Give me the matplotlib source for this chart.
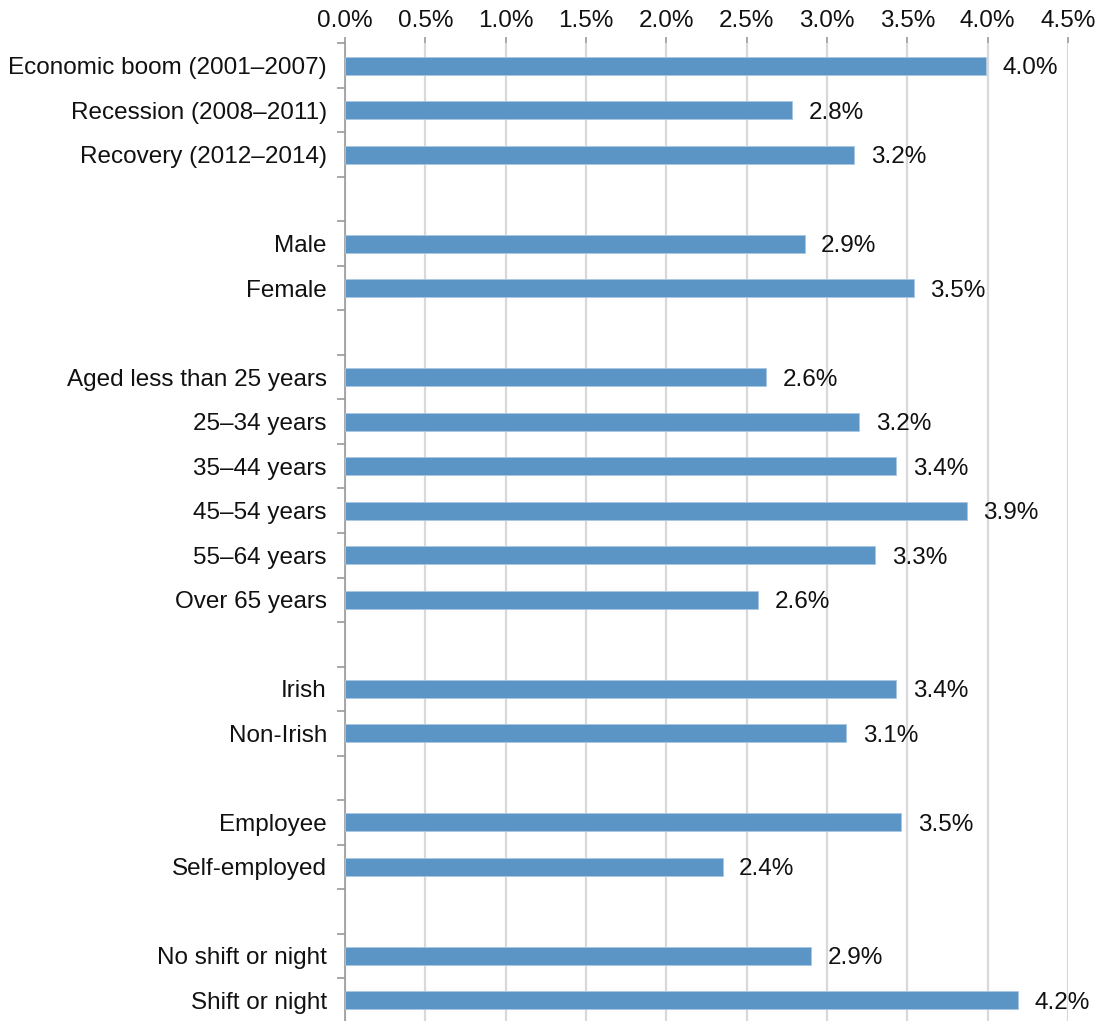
import matplotlib
matplotlib.use("Agg")
import matplotlib.pyplot as plt
from matplotlib.ticker import FuncFormatter, FixedLocator

plt.rcParams['font.family'] = ['Liberation Sans', 'DejaVu Sans']

groups = [
    ["Economic boom (2001–2007)", "Recession (2008–2011)", "Recovery (2012–2014)"],
    ["Male", "Female"],
    ["Aged less than 25 years", "25–34 years", "35–44 years", "45–54 years", "55–64 years", "Over 65 years"],
    ["Irish", "Non-Irish"],
    ["Employee", "Self-employed"],
    ["No shift or night", "Shift or night"],
]
bar_values = [
    [3.99, 2.78, 3.17],
    [2.86, 3.54],
    [2.62, 3.20, 3.43, 3.87, 3.30, 2.57],
    [3.43, 3.12],
    [3.46, 2.35],
    [2.90, 4.19],
]
value_labels = [
    ["4.0%", "2.8%", "3.2%"],
    ["2.9%", "3.5%"],
    ["2.6%", "3.2%", "3.4%", "3.9%", "3.3%", "2.6%"],
    ["3.4%", "3.1%"],
    ["3.5%", "2.4%"],
    ["2.9%", "4.2%"],
]
x_ticks = [0.0, 0.5, 1.0, 1.5, 2.0, 2.5, 3.0, 3.5, 4.0, 4.5]

FS = 17.5
W, H = 1099, 1021
fig = plt.figure(figsize=(W / 100, H / 100), dpi=100)
top_px = 43.5
slot_px = 44.5
ax = fig.add_axes([345 / W, 0, (1068 - 345) / W, (H - top_px) / H])

positions, labels, vals, vlabs = [], [], [], []
pos = 0
for gi, (g, v, l) in enumerate(zip(groups, bar_values, value_labels)):
    for name, val, lab in zip(g, v, l):
        positions.append(pos)
        labels.append(name)
        vals.append(val)
        vlabs.append(lab)
        pos += 1
    pos += 1  # blank slot between groups

bar_color = "#5A95C6"
ax.barh(positions, vals, height=0.4, color=bar_color, edgecolor="#A9C7E2", linewidth=0.6, zorder=3)
for p, v, lab in zip(positions, vals, vlabs):
    ax.annotate(lab, xy=(v, p), xytext=(12, 0), textcoords="offset points",
                ha="left", va="center_baseline", fontsize=FS, color="#111111", zorder=4)

ax.set_xlim(0, 4.5)
ax.set_ylim(-0.5 + (H - top_px) / slot_px, -0.5)

ax.xaxis.tick_top()
ax.set_xticks(x_ticks)
ax.xaxis.set_major_formatter(FuncFormatter(lambda x, _: f"{x:.1f}%"))
ax.tick_params(axis="x", which="major", length=4, width=1.2, color="#9A9A9A",
               labelsize=FS, pad=4, labelcolor="#111111")
ax.grid(axis="x", color="#D9D9D9", linewidth=1.6, zorder=0)

ax.set_yticks(positions)
ax.set_yticklabels(labels)
ax.yaxis.set_minor_locator(FixedLocator([k - 0.5 for k in range(pos)]))
ax.tick_params(axis="y", which="major", length=0, labelsize=FS, pad=13, labelcolor="#111111")
ax.tick_params(axis="y", which="minor", length=6, width=1.2, color="#9A9A9A")

for s in ["top", "right", "bottom"]:
    ax.spines[s].set_visible(False)
ax.spines["left"].set_color("#9A9A9A")
ax.spines["left"].set_linewidth(1.2)

fig.savefig("out.png", dpi=100)
